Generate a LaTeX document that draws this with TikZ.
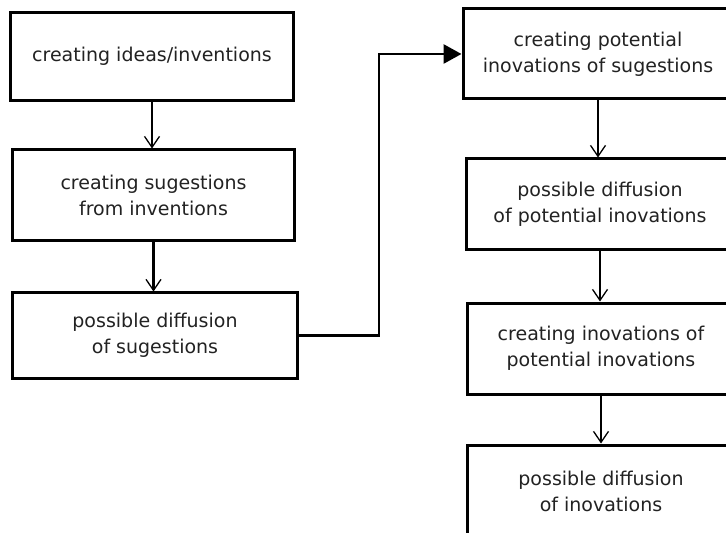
\documentclass[tikz,border=0pt]{standalone}
\usepackage{fontspec}
\setmainfont{DejaVu Sans}
\usetikzlibrary{arrows.meta}
\definecolor{txt}{HTML}{222222}
\begin{document}
\begin{tikzpicture}[x=1bp,y=-1bp,
  box/.style={draw=black, line width=3bp, fill=white, rectangle, align=center,
    text=txt, font=\fontsize{19bp}{26bp}\selectfont, inner sep=0pt},
  flow/.style={line width=2.8bp, -{Straight Barb[length=11bp,width=15bp,line width=1.3bp]}},
  link/.style={line width=2.8bp, -{Triangle[length=18bp,width=19bp]}}]
\useasboundingbox (0,0) rectangle (726,533);
\fill[white] (0,0) rectangle (726,533);
\node[box, minimum width=282bp, minimum height=88bp] (b1) at (152,56.5) {creating ideas/inventions};
\node[box, minimum width=281bp, minimum height=90bp] (b2) at (153.5,195) {creating sugestions\\from inventions};
\node[box, minimum width=284bp, minimum height=85bp] (b3) at (155,335.5) {possible diffusion\\of sugestions};
\node[box, minimum width=270bp, minimum height=90bp] (b4) at (598,54) {creating potential\\inovations of sugestions};
\node[box, minimum width=268bp, minimum height=90bp] (b5) at (600,204) {possible diffusion\\of potential inovations};
\node[box, minimum width=268bp, minimum height=91bp] (b6) at (601,348.5) {creating inovations of\\potential inovations};
\node[box, minimum width=268bp, minimum height=92bp] (b7) at (601,491) {possible diffusion\\of inovations};
\coordinate (bend) at (379,200);
\draw[flow] (b1.south) -- (b1.south |- b2.north);
\draw[flow] (b2.south) -- (b2.south |- b3.north);
\draw[link] (b3.east) -- (b3.east -| bend) |- (b4.west);
\draw[flow] (b4.south) -- (b4.south |- b5.north);
\draw[flow] (b5.south) -- (b5.south |- b6.north);
\draw[flow] (b6.south) -- (b6.south |- b7.north);
\end{tikzpicture}
\end{document}
